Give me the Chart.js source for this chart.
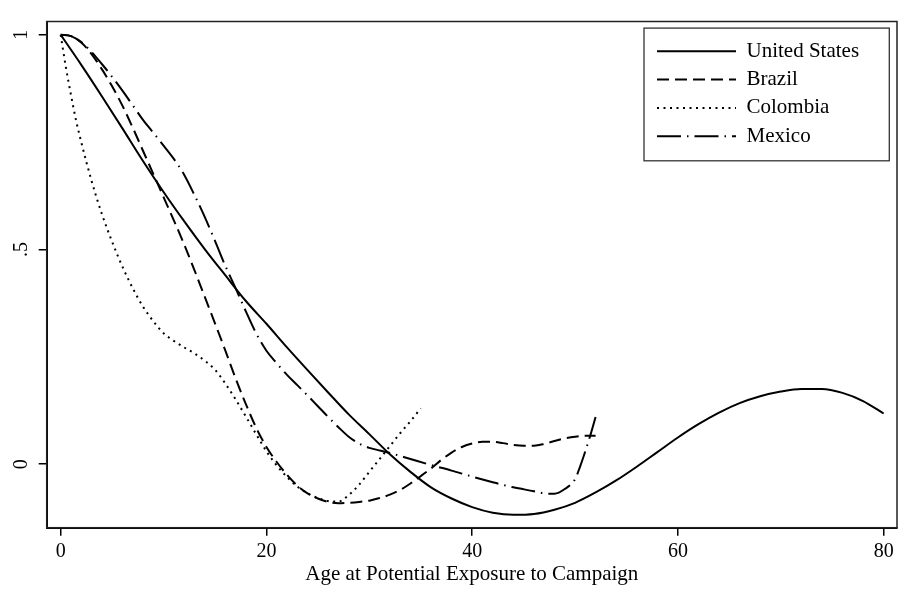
<!DOCTYPE html>
<html>
<head>
<meta charset="utf-8">
<title>Age at Potential Exposure to Campaign</title>
<script src="https://cdn.jsdelivr.net/npm/chart.js@4.4.1/dist/chart.umd.min.js"></script>
<style>
  html, body { margin: 0; padding: 0; background: #fff; }
  #wrap { width: 899px; height: 591px; }
</style>
</head>
<body>
<div id="wrap"><canvas id="chart" width="899" height="591"></canvas></div>
<script>
// Data
const usAge = [0, 2, 4, 6, 8, 10, 12, 14, 16, 18, 20, 22, 24, 26, 28, 30, 32, 34, 36, 38, 40,
               42, 44, 46, 48, 50, 52, 54, 56, 58, 60, 62, 64, 66, 68, 70, 72, 74, 76, 78, 80];
const usValue = [1.0, 0.93, 0.857, 0.782, 0.706, 0.634, 0.566, 0.501, 0.44, 0.38, 0.327, 0.272, 0.219,
                 0.167, 0.116, 0.07, 0.023, -0.018, -0.054, -0.08, -0.1, -0.113, -0.118, -0.116, -0.106,
                 -0.09, -0.066, -0.038, -0.006, 0.028, 0.062, 0.093, 0.12, 0.142, 0.158, 0.169, 0.175,
                 0.175, 0.166, 0.147, 0.118];

const brazilAge = [0, 1, 2, 3, 4, 5, 6, 7, 8, 9, 10, 11, 12, 13, 14, 15, 16, 17, 18, 19, 20, 21, 22, 23, 24, 25, 26,
                   27, 28, 29, 30, 31, 32, 33, 34, 35, 36, 37, 38, 39, 40, 41, 42, 43, 44, 45, 46, 47, 48, 49, 50, 51, 52];
const brazilValue = [1.0, 0.997, 0.982, 0.955, 0.92, 0.88, 0.835, 0.784, 0.73, 0.676, 0.622, 0.568, 0.512, 0.452,
                     0.39, 0.328, 0.265, 0.2, 0.14, 0.085, 0.04, 0.005, -0.025, -0.05, -0.068, -0.08, -0.088,
                     -0.091, -0.09, -0.088, -0.085, -0.079, -0.071, -0.06, -0.045, -0.028, -0.01, 0.01, 0.027,
                     0.04, 0.048, 0.052, 0.052, 0.049, 0.045, 0.043, 0.043, 0.047, 0.054, 0.06, 0.064, 0.066, 0.066];

const colombiaAge = [0, 0.5, 1, 1.5, 2, 3, 4, 5, 6, 7, 8, 9, 10, 11, 12, 13, 14, 15, 16, 17, 18, 19, 20, 21, 22,
                     23, 24, 25, 26, 27, 28, 29, 30, 31, 32, 33, 34, 35];
const colombiaValue = [1.0, 0.925, 0.86, 0.8, 0.75, 0.66, 0.583, 0.518, 0.46, 0.41, 0.367, 0.333, 0.305, 0.287,
                       0.272, 0.258, 0.241, 0.22, 0.188, 0.151, 0.111, 0.07, 0.03, -0.003, -0.03, -0.052, -0.068,
                       -0.079, -0.086, -0.087, -0.072, -0.048, -0.018, 0.012, 0.042, 0.072, 0.1, 0.13];

const mexicoAge = [0, 1, 2, 3, 4, 5, 6, 7, 8, 9, 10, 11, 12, 13, 14, 15, 16, 17, 18, 19, 20, 21, 22, 23, 24, 25,
                   26, 27, 28, 29, 30, 31, 32, 34, 36, 38, 40, 42, 44, 46, 47, 48, 49, 50, 50.5, 51, 51.5, 52];
const mexicoValue = [1.0, 0.997, 0.983, 0.96, 0.932, 0.902, 0.87, 0.836, 0.802, 0.772, 0.742, 0.711, 0.674, 0.627,
                     0.576, 0.52, 0.462, 0.41, 0.356, 0.305, 0.264, 0.235, 0.208, 0.184, 0.16, 0.135, 0.11,
                     0.086, 0.064, 0.048, 0.038, 0.032, 0.026, 0.012, -0.002, -0.015, -0.029, -0.042, -0.054,
                     -0.063, -0.068, -0.069, -0.058, -0.035, -0.005, 0.03, 0.068, 0.11];

const seriesNames = ['United States', 'Brazil', 'Colombia', 'Mexico'];
const xTickValues = [0, 20, 40, 60, 80];
const yTickValues = [0, 0.5, 1];
const yTickLabels = ['0', '.5', '1'];

const serif = "'Liberation Serif', 'Times New Roman', serif";

function toPoints(xs, ys) {
    return xs.map((x, i) => ({ x: x, y: ys[i] }));
}

function makeSet(label, xs, ys, dash) {
    return {
        label: label,
        data: toPoints(xs, ys),
        borderColor: '#000',
        backgroundColor: '#000',
        borderWidth: 2,
        borderDash: dash,
        borderCapStyle: 'butt',
        pointRadius: 0,
        fill: false,
        cubicInterpolationMode: 'monotone'
    };
}

// Legend inside the plot region + outer frames
const frames = {
    id: 'frames',
    afterLayout(chart) {
        const a = chart.chartArea;
        const lg = chart.legend;
        if (!lg) return;
        lg.left = a.right - 247.3;
        lg.top = a.top + 12;
        lg.width = 240;
        lg.height = 130;
        lg.right = lg.left + lg.width;
        lg.bottom = lg.top + lg.height;
    },
    afterDraw(chart) {
        const ctx = chart.ctx;
        const a = chart.chartArea;
        ctx.save();
        ctx.strokeStyle = '#222';
        ctx.lineWidth = 1.5;
        ctx.strokeRect(a.left, a.top, a.right - a.left, a.bottom - a.top);
        ctx.strokeStyle = '#333';
        ctx.lineWidth = 1.3;
        ctx.strokeRect(a.right - 253, a.top + 6.6, 245.3, 132.7);
        ctx.restore();
    }
};

document.addEventListener('DOMContentLoaded', function() {
    const ctx = document.getElementById('chart').getContext('2d');
    new Chart(ctx, {
        type: 'line',
        data: {
            datasets: [
                makeSet(seriesNames[0], usAge, usValue, []),
                makeSet(seriesNames[1], brazilAge, brazilValue, [12, 6]),
                makeSet(seriesNames[2], colombiaAge, colombiaValue, [2, 4.5]),
                makeSet(seriesNames[3], mexicoAge, mexicoValue, [24, 6, 1.5, 6])
            ]
        },
        options: {
            responsive: false,
            animation: false,
            layout: { padding: { top: 10.7, right: 2, bottom: 0, left: 0 } },
            plugins: {
                tooltip: { enabled: false },
                legend: {
                    position: 'chartArea',
                    align: 'start',
                    labels: {
                        usePointStyle: true,
                        pointStyle: 'line',
                        pointStyleWidth: 79,
                        padding: 7.3,
                        color: '#000',
                        font: { family: serif, size: 21 },
                        generateLabels: (chart) => {
                            const items = Chart.defaults.plugins.legend.labels.generateLabels(chart);
                            items.forEach(it => {
                                const ds = chart.data.datasets[it.datasetIndex];
                                it.lineDash = ds.borderDash;
                                it.lineWidth = ds.borderWidth;
                                it.strokeStyle = '#000';
                                it.pointStyle = 'line';
                            });
                            return items;
                        }
                    }
                }
            },
            scales: {
                x: {
                    type: 'linear',
                    min: -1.36,
                    max: 81.3,
                    afterBuildTicks: (s) => { s.ticks = xTickValues.map(v => ({ value: v })); },
                    afterFit: (s) => { s.height = 63.3; },
                    grid: { drawOnChartArea: false, drawTicks: true, tickLength: 8, color: '#000', lineWidth: 1.5 },
                    border: { display: true, color: '#000', width: 2 },
                    ticks: {
                        color: '#000', padding: 4, maxRotation: 0, autoSkip: false,
                        font: { family: serif, size: 20 }
                    },
                    title: {
                        display: true,
                        text: 'Age at Potential Exposure to Campaign',
                        color: '#000',
                        font: { family: serif, size: 21 },
                        padding: { top: 0, bottom: 4 }
                    }
                },
                y: {
                    type: 'linear',
                    min: -0.148,
                    max: 1.031,
                    afterBuildTicks: (s) => { s.ticks = yTickValues.map(v => ({ value: v })); },
                    afterFit: (s) => { s.width = 46.7; },
                    grid: { drawOnChartArea: false, drawTicks: true, tickLength: 8, color: '#000', lineWidth: 1.5 },
                    border: { display: true, color: '#000', width: 2 },
                    ticks: {
                        color: '#000',
                        minRotation: 90,
                        maxRotation: 90,
                        crossAlign: 'center',
                        padding: 9.5,
                        autoSkip: false,
                        font: { family: serif, size: 20 },
                        callback: (v) => yTickLabels[yTickValues.indexOf(v)]
                    }
                }
            }
        },
        plugins: [frames]
    });
});
</script>
</body>
</html>
